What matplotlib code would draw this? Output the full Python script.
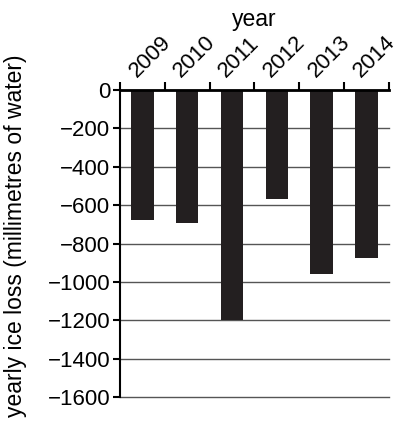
import matplotlib.pyplot as plt
import numpy as np

plt.rcParams['font.family'] = ['Liberation Sans', 'DejaVu Sans']

years = ['2009', '2010', '2011', '2012', '2013', '2014']
ice_loss = [-675, -695, -1200, -570, -960, -873]
y_ticks = list(range(-1600, 1, 200))

fig = plt.figure(figsize=(4.01, 4.29), dpi=100)
ax = fig.add_axes([0.299, 0.0746, 0.671, 0.7154])

x = np.arange(len(years))
ax.bar(x, ice_loss, width=0.5, color='#231f20', zorder=3)

ax.set_xlim(-0.5, len(years) - 0.5)
ax.set_ylim(-1600, 0)
ax.set_yticks(y_ticks)
ax.set_yticklabels([str(v).replace('-', '\u2212') for v in y_ticks])
ax.yaxis.grid(True, color='#555555', linewidth=1.0, zorder=0)
for gl in ax.get_ygridlines():
    gl.set_clip_on(False)

# x axis on top: ticks at category boundaries, labels near centres
ax.xaxis.tick_top()
ax.set_xticks(np.arange(-0.5, len(years)))
ax.set_xticklabels([])
ax.set_xticks(x - 0.13, minor=True)
ax.set_xticklabels(years, minor=True, rotation=45, ha='left', va='baseline',
                   rotation_mode='anchor', fontsize=16)
ax.tick_params(axis='x', which='minor', length=0, pad=8.5, top=True, bottom=False)
ax.tick_params(axis='x', which='major', length=6, width=1.5, direction='out',
               top=True, bottom=False)
ax.tick_params(axis='y', length=5, width=1.5, labelsize=16, pad=2)

for s in ['right', 'bottom']:
    ax.spines[s].set_visible(False)
ax.spines['left'].set_linewidth(1.5)
ax.spines['top'].set_linewidth(2)
ax.spines['top'].set_zorder(4)

ax.set_xlabel('year', fontsize=16.5, labelpad=4)
ax.xaxis.set_label_position('top')
fig.text(16 / 401, 1 - 236 / 429, 'yearly ice loss (millimetres of water)',
         rotation=90, ha='center', va='center', fontsize=16.5)

fig.savefig('out.png', dpi=100)
